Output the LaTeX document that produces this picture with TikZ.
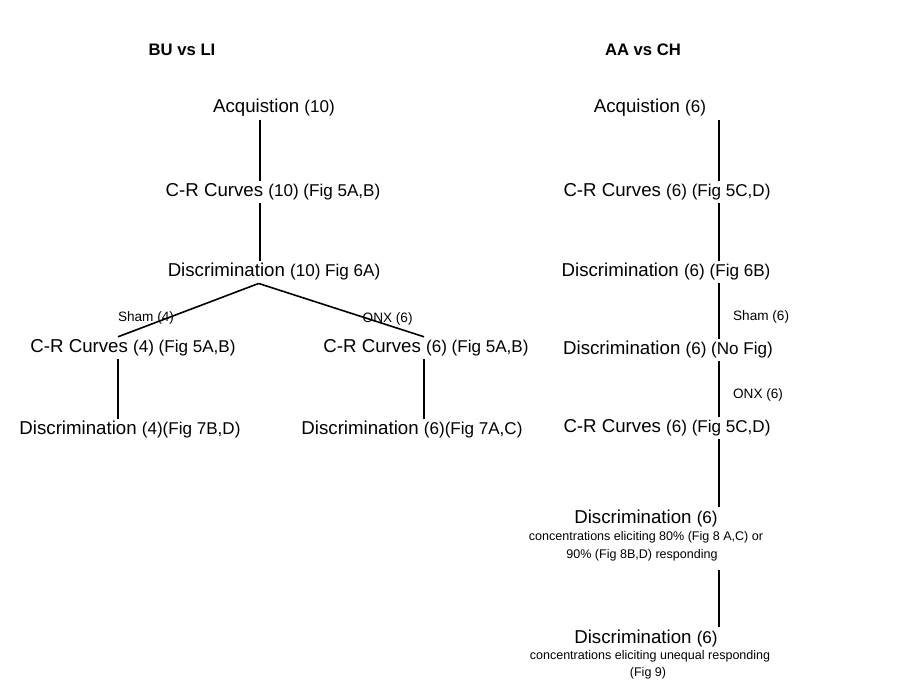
\documentclass[tikz,border=0pt]{standalone}
\usepackage{fontspec}
\setmainfont{Liberation Sans}
\usetikzlibrary{positioning}
\newcommand{\sm}[1]{{\fontsize{12.8}{14}\selectfont #1}}
\begin{document}
\begin{tikzpicture}[x=0.75pt, y=-0.75pt,
v/.style={inner sep=2pt, font=\fontsize{14}{16}\selectfont},
t/.style={font=\fontsize{12.5}{14}\selectfont\bfseries},
sub/.style={inner sep=1pt, font=\fontsize{9.4}{11}\selectfont},
lbl/.style={inner sep=1pt, font=\fontsize{10.2}{12}\selectfont},
ln/.style={line width=1.2pt}]
\useasboundingbox (0,0) rectangle (903,686);
% titles
\node[t] (ttl) at (182,50) {BU vs LI};
\node[t] (ttr) at (643,50) {AA vs CH};
% spines
\coordinate (spL) at (260,0);
\coordinate (brL) at (118,0);
\coordinate (brR) at (424,0);
\coordinate (spR) at (719,0);
% left tree
\node[v] (a1) at (274,108) {Acquistion \sm{(10)}};
\node[v] (c1) at (273,192) {C-R Curves \sm{(10) (Fig 5A,B)}};
\node[v] (d1) at (274,272) {Discrimination \sm{(10) Fig 6A)}};
\node[v] (c2) at (133,348) {C-R Curves \sm{(4) (Fig 5A,B)}};
\node[v] (c3) at (426,348) {C-R Curves \sm{(6) (Fig 5A,B)}};
\node[v] (d2) at (130,430) {Discrimination \sm{(4)(Fig 7B,D)}};
\node[v] (d3) at (412,430) {Discrimination \sm{(6)(Fig 7A,C)}};
\draw[ln] (a1.south -| spL) -- (c1.north -| spL);
\draw[ln] (c1.south -| spL) -- (d1.north -| spL);
\draw[ln] ([xshift=-1pt]d1.south -| spL) -- node[pos=0.53, anchor=east, xshift=-6pt, yshift=-5pt, lbl] {Sham (4)} (c2.north -| brL);
\draw[ln] ([xshift=-1pt]d1.south -| spL) -- node[pos=0.56, anchor=west, xshift=7pt, yshift=-4pt, lbl] {ONX (6)} (c3.north -| brR);
\draw[ln] (c2.south -| brL) -- (d2.north -| brL);
\draw[ln] (c3.south -| brR) -- (d3.north -| brR);
% right tree
\node[v] (a2) at (650,108) {Acquistion \sm{(6)}};
\node[v] (c4) at (667,192) {C-R Curves \sm{(6) (Fig 5C,D)}};
\node[v] (d4) at (666,272) {Discrimination \sm{(6) (Fig 6B)}};
\node[v] (d5) at (668,350) {Discrimination \sm{(6) (No Fig)}};
\node[v] (c5) at (667,428) {C-R Curves \sm{(6) (Fig 5C,D)}};
\node[v] (d6) at (646,518) {Discrimination \sm{(6)}};
\node[sub] (d6a) at (646,537) {concentrations eliciting 80\% (Fig 8 A,C) or};
\node[sub] (d6b) at (642,555) {90\% (Fig 8B,D) responding};
\node[v] (d7) at (646,638) {Discrimination \sm{(6)}};
\node[sub] (d7a) at (650,656) {concentrations eliciting unequal responding};
\node[sub] (d7b) at (648,673) {(Fig 9)};
\draw[ln] (a2.south -| spR) -- (c4.north -| spR);
\draw[ln] (c4.south -| spR) -- (d4.north -| spR);
\draw[ln] (d4.south -| spR) -- node[pos=0.6, right=9pt, lbl] {Sham (6)} (d5.north -| spR);
\draw[ln] (d5.south -| spR) -- node[pos=0.6, right=9pt, lbl] {ONX (6)} (c5.north -| spR);
\draw[ln] (c5.south -| spR) -- (d6.north -| spR);
\draw[ln, shorten <=6pt] (d6b.south -| spR) -- (d7.north -| spR);
\end{tikzpicture}
\end{document}
